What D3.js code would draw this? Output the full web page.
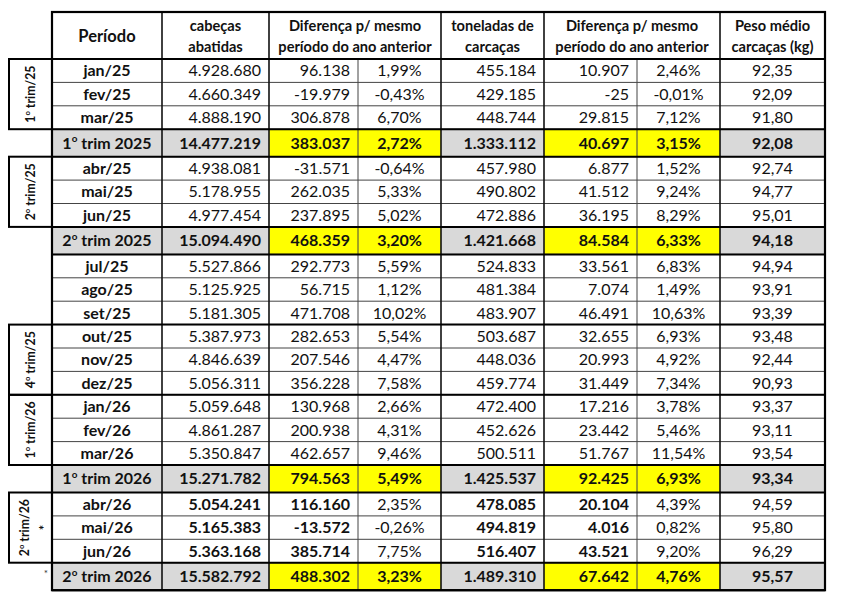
<!DOCTYPE html>
<html><head><meta charset="utf-8">
<script src="https://cdn.jsdelivr.net/npm/d3@7/dist/d3.min.js"></script>
<style>
html,body{margin:0;padding:0;background:#fff;}
svg{display:block;font-family:Lato,"Open Sans",sans-serif;}
</style></head>
<body>
<svg id="chart" width="842" height="608"></svg>
<script>
// ---------------- DATA ----------------
const periods = ["jan/25","fev/25","mar/25","1º trim 2025","abr/25","mai/25","jun/25","2º trim 2025",
  "jul/25","ago/25","set/25","out/25","nov/25","dez/25","jan/26","fev/26","mar/26","1º trim 2026",
  "abr/26","mai/26","jun/26","2º trim 2026"];
const rowKinds = ["m","m","m","t","m","m","m","t","m","m","m","m","m","m","m","m","m","t","m","m","m","t"];
const preliminary = [0,0,0,0,0,0,0,0,0,0,0,0,0,0,0,0,0,0,1,1,1,1];
const cabecas = [4928680,4660349,4888190,14477219,4938081,5178955,4977454,15094490,5527866,5125925,5181305,
  5387973,4846639,5056311,5059648,4861287,5350847,15271782,5054241,5165383,5363168,15582792];
const diffCab = [96138,-19979,306878,383037,-31571,262035,237895,468359,292773,56715,471708,282653,207546,
  356228,130968,200938,462657,794563,116160,-13572,385714,488302];
const pctCab = [1.99,-0.43,6.70,2.72,-0.64,5.33,5.02,3.20,5.59,1.12,10.02,5.54,4.47,7.58,2.66,4.31,9.46,
  5.49,2.35,-0.26,7.75,3.23];
const toneladas = [455184,429185,448744,1333112,457980,490802,472886,1421668,524833,481384,483907,503687,
  448036,459774,472400,452626,500511,1425537,478085,494819,516407,1489310];
const diffTon = [10907,-25,29815,40697,6877,41512,36195,84584,33561,7074,46491,32655,20993,31449,17216,
  23442,51767,92425,20104,4016,43521,67642];
const pctTon = [2.46,-0.01,7.12,3.15,1.52,9.24,8.29,6.33,6.83,1.49,10.63,6.93,4.92,7.34,3.78,5.46,11.54,
  6.93,4.39,0.82,9.20,4.76];
const peso = [92.35,92.09,91.80,92.08,92.74,94.77,95.01,94.18,94.94,93.91,93.39,93.48,92.44,90.93,93.37,
  93.11,93.54,93.34,94.59,95.80,96.29,95.57];
const sideLabels = ["1º trim/25","2º trim/25","4º trim/25","1º trim/26","2º trim/26"];
const sideFrom = ["jan/25","abr/25","out/25","jan/26","abr/26"];
const sideTo = ["mar/25","jun/25","dez/25","mar/26","jun/26"];
const sideNotes = ["","","","","*"];
const headers = [["Período"],["cabeças","abatidas"],["Diferença p/ mesmo","período do ano anterior"],
  ["toneladas de","carcaças"],["Diferença p/ mesmo","período do ano anterior"],["Peso médio","carcaças (kg)"]];

// ---------------- LAYOUT ----------------
const svg = d3.select("#chart");
svg.append("rect").attr("width",842).attr("height",608).attr("fill","#fff");
const loc = d3.formatLocale({decimal:",",thousands:".",grouping:[3],currency:["R$",""],minus:"-"});
const fInt = loc.format(",d"), f2 = loc.format(",.2f");
const fPct = v => f2(v) + "%";

const colEdges = [52,162,269,358,441,544,637,720,825];
const tableTop = 12, headH = 47, rowH = 23.4, sumH = 27.5;
const heights = rowKinds.map(k => k === "t" ? sumH : rowH);
const tops = [0, ...d3.cumsum(heights)].map(v => v + tableTop + headH);
const yTop = d3.scaleOrdinal().domain(periods).range(tops.slice(0, periods.length));
const hOf = d3.scaleOrdinal().domain(periods).range(heights);
const tableBottom = tops[tops.length-1];
const GRAY = "#d9d9d9", YEL = "#ffff00", TXT = "#111";

const columns = [
  {vals: periods, kind:"label"},
  {vals: cabecas, fmt: fInt, align:"right", boldPre:true},
  {vals: diffCab, fmt: fInt, align:"right", boldPre:true, hi:true},
  {vals: pctCab, fmt: fPct, align:"middle", hi:true},
  {vals: toneladas, fmt: fInt, align:"right", boldPre:true},
  {vals: diffTon, fmt: fInt, align:"right", boldPre:true, hi:true},
  {vals: pctTon, fmt: fPct, align:"middle", hi:true},
  {vals: peso, fmt: f2, align:"middle"}
];

// cell backgrounds for summary rows
const gCells = svg.append("g");
periods.forEach((p,i) => {
  if (rowKinds[i] !== "t") return;
  columns.forEach((c,j) => {
    gCells.append("rect").attr("x",colEdges[j]).attr("y",yTop(p))
      .attr("width",colEdges[j+1]-colEdges[j]).attr("height",hOf(p))
      .attr("fill", c.hi ? YEL : GRAY);
  });
});

// header text
const gHead = svg.append("g").attr("font-weight","bold").attr("fill",TXT).attr("text-anchor","middle");
const headSpans = [[0,1],[1,2],[2,4],[4,5],[5,7],[7,8]];
headers.forEach((h,k) => {
  const cx = (colEdges[headSpans[k][0]] + colEdges[headSpans[k][1]]) / 2;
  if (h.length === 1) {
    gHead.append("text").attr("x",cx).attr("y",tableTop+headH/2+6).attr("font-size",16.5).text(h[0]);
  } else {
    h.forEach((line,li) => gHead.append("text").attr("x",cx).attr("y",tableTop+19+li*21)
      .attr("font-size",14.6).text(line));
  }
});

// body text
const gBody = svg.append("g").attr("fill",TXT);
function ordinalText(sel, label, size) {
  const m = label.match(/^(\d)º(.*)$/);
  if (!m) { sel.text(label); return; }
  sel.append("tspan").text(m[1]);
  sel.append("tspan").attr("font-size", size*0.62).attr("dy", -size*0.4).text("o");
  sel.append("tspan").attr("dy", size*0.4).text(m[2]);
}
periods.forEach((p,i) => {
  const isSum = rowKinds[i] === "t";
  const cy = yTop(p) + hOf(p)/2 + 5.6;
  columns.forEach((c,j) => {
    const t = gBody.append("text").attr("y",cy).attr("font-size",16);
    if (c.kind === "label") {
      t.attr("x",(colEdges[0]+colEdges[1])/2).attr("text-anchor","middle").attr("font-weight","bold");
      ordinalText(t, p, 16);
      return;
    }
    if (c.align === "right") t.attr("x",colEdges[j+1]-8).attr("text-anchor","end");
    else t.attr("x",(colEdges[j]+colEdges[j+1])/2).attr("text-anchor","middle");
    const bold = isSum || (c.boldPre && preliminary[i]);
    t.attr("font-weight", bold ? "bold" : "normal").text(c.fmt(c.vals[i]));
  });
});

// grid lines
const gLines = svg.append("g").attr("fill","none");
tops.slice(1,-1).forEach(y => gLines.append("line").attr("x1",colEdges[0]).attr("x2",colEdges[8])
  .attr("y1",y).attr("y2",y).attr("stroke","#444").attr("stroke-width",1));
[3,6].forEach(j => gLines.append("line").attr("x1",colEdges[j]).attr("x2",colEdges[j])
  .attr("y1",tableTop+headH).attr("y2",tableBottom).attr("stroke","#444").attr("stroke-width",1));
[1,2,4,5,7].forEach(j => gLines.append("line").attr("x1",colEdges[j]).attr("x2",colEdges[j])
  .attr("y1",tableTop).attr("y2",tableBottom).attr("stroke","#111").attr("stroke-width",1.6));
const thickYs = new Set([tableTop+headH]);
periods.forEach((p,i) => { if (rowKinds[i]==="t") { thickYs.add(yTop(p)); thickYs.add(yTop(p)+hOf(p)); } });
sideFrom.forEach((p,k) => { thickYs.add(yTop(p)); thickYs.add(yTop(sideTo[k])+hOf(sideTo[k])); });
thickYs.forEach(y => gLines.append("line").attr("x1",colEdges[0]).attr("x2",colEdges[8])
  .attr("y1",y).attr("y2",y).attr("stroke","#000").attr("stroke-width",2));
gLines.append("rect").attr("x",colEdges[0]).attr("y",tableTop).attr("width",colEdges[8]-colEdges[0])
  .attr("height",tableBottom-tableTop).attr("stroke","#000").attr("stroke-width",2.2);

// side group boxes
const gSide = svg.append("g");
sideLabels.forEach((lab,k) => {
  const y0 = yTop(sideFrom[k]), y1 = yTop(sideTo[k]) + hOf(sideTo[k]);
  gSide.append("rect").attr("x",9).attr("y",y0).attr("width",colEdges[0]-9).attr("height",y1-y0)
    .attr("fill","none").attr("stroke","#000").attr("stroke-width",2);
  const cx = sideNotes[k] ? 24 : 30.5, cy = (y0+y1)/2;
  const t = gSide.append("text").attr("transform",`translate(${cx+4.5},${cy}) rotate(-90)`)
    .attr("text-anchor","middle").attr("font-weight","bold").attr("font-size",12.3).attr("fill",TXT);
  ordinalText(t, lab, 12.3);
  if (sideNotes[k]) gSide.append("text").attr("transform",`translate(${cx+20},${cy}) rotate(-90)`)
    .attr("text-anchor","middle").attr("font-weight","bold").attr("font-size",13).attr("fill",TXT)
    .attr("dy","0.35em").text(sideNotes[k]);
});
periods.forEach((p,i) => {
  if (rowKinds[i]==="t" && preliminary[i]) svg.append("text").attr("x",colEdges[0]-4)
    .attr("y",yTop(p)+hOf(p)/2+1).attr("text-anchor","end").attr("font-size",10).attr("fill","#333").text("*");
});
</script>
</body></html>
